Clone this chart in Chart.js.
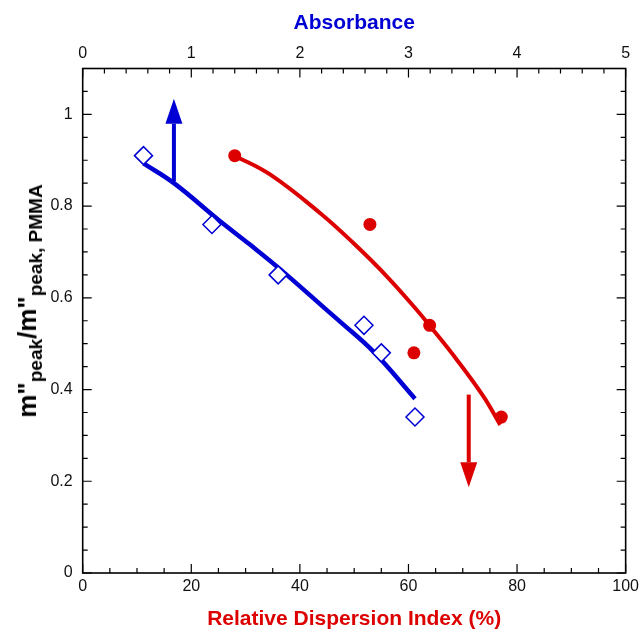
<!DOCTYPE html>
<html>
<head>
<meta charset="utf-8">
<script src="https://cdn.jsdelivr.net/npm/chart.js@4.4.1/dist/chart.umd.min.js"></script>
<style>
  html, body { margin: 0; padding: 0; background: #fff; }
  #wrap { position: relative; width: 643px; height: 630px; }
  #ylab {
    position: absolute; left: 27px; top: 301px;
    transform: translate(-50%, -50%) rotate(-90deg);
    font: bold 26px 'Liberation Sans', Arial, sans-serif;
    white-space: nowrap; line-height: 1; color: #000;
  }
  #ylab sub { font-size: 19px; vertical-align: -6px; line-height: 0; }
</style>
</head>
<body>
<div id="wrap">
  <canvas id="chart" width="643" height="630"></canvas>
  <div id="ylab">m"<sub>peak</sub>/m"<sub>peak, PMMA</sub></div>
</div>
<script>
// chart data

// blue: absorbance (top axis)
const absorbance = [0.56, 1.19, 1.80, 2.59, 2.75, 3.06];
const ratioAbs = [0.91, 0.76, 0.65, 0.54, 0.48, 0.34];
// blue fit curve
const absFitX = [0.56, 0.84, 1.26, 1.54, 1.82, 2.23, 2.37, 2.68, 3.06];
const absFitY = [0.893, 0.850, 0.768, 0.716, 0.662, 0.577, 0.548, 0.482, 0.380];

// red: relative dispersion index (bottom axis)
const dispersion = [28.0, 52.9, 61.0, 63.9, 77.1];
const ratioRdi = [0.91, 0.76, 0.48, 0.54, 0.34];
// red fit curve
const rdiFitX = [28.0, 34.5, 43.7, 49.8, 56.0, 61.5, 64.0, 68.9, 73.8, 76.9];
const rdiFitY = [0.910, 0.869, 0.785, 0.720, 0.647, 0.574, 0.538, 0.465, 0.385, 0.323];

// arrows: [x, from y, to y]
const absArrow = [0.84, 0.854, 1.034];
const rdiArrow = [71.1, 0.389, 0.187];

const BLUE = '#0000d4';
const RED = '#dc0000';
const FONT = "'Liberation Sans', Arial, sans-serif";

const toPoints = (xs, ys) => xs.map((x, i) => ({ x: x, y: ys[i] }));

// 枠と内向きの目盛り
const frameTicks = {
  id: 'frameTicks',
  afterDatasetsDraw(chart) {
    const { ctx, chartArea: a, scales } = chart;
    ctx.save();
    ctx.strokeStyle = '#000';
    ctx.lineWidth = 1.2;
    ctx.beginPath();
    const marks = (scale, minor, major, draw) => {
      for (let i = 0; ; i++) {
        const v = scale.min + i * minor;
        if (v > scale.max + 1e-9) break;
        const isMajor = Math.abs(v / major - Math.round(v / major)) < 1e-6;
        draw(scale.getPixelForValue(v), isMajor ? 9 : 5);
      }
    };
    marks(scales.x, 5, 20, (p, len) => { ctx.moveTo(p, a.bottom); ctx.lineTo(p, a.bottom - len); });
    marks(scales.x2, 0.2, 1, (p, len) => { ctx.moveTo(p, a.top); ctx.lineTo(p, a.top + len); });
    marks(scales.y, 0.05, 0.2, (p, len) => { ctx.moveTo(a.left, p); ctx.lineTo(a.left + len, p); });
    marks(scales.y2, 0.05, 0.2, (p, len) => { ctx.moveTo(a.right, p); ctx.lineTo(a.right - len, p); });
    ctx.stroke();
    ctx.lineWidth = 1.6;
    ctx.strokeRect(a.left, a.top, a.right - a.left, a.bottom - a.top);
    ctx.restore();
  }
};

// 矢印
const arrows = {
  id: 'arrows',
  afterDatasetsDraw(chart) {
    const { ctx, scales } = chart;
    const draw = (xs, arrow, color) => {
      const px = xs.getPixelForValue(arrow[0]);
      const p0 = scales.y.getPixelForValue(arrow[1]);
      const p1 = scales.y.getPixelForValue(arrow[2]);
      const dir = Math.sign(p1 - p0);
      const head = 25, half = 8.5;
      ctx.save();
      ctx.strokeStyle = color;
      ctx.fillStyle = color;
      ctx.lineWidth = 4;
      ctx.beginPath();
      ctx.moveTo(px, p0);
      ctx.lineTo(px, p1 - dir * head);
      ctx.stroke();
      ctx.beginPath();
      ctx.moveTo(px, p1);
      ctx.lineTo(px - half, p1 - dir * head);
      ctx.lineTo(px + half, p1 - dir * head);
      ctx.closePath();
      ctx.fill();
      ctx.restore();
    };
    draw(scales.x2, absArrow, BLUE);
    draw(scales.x, rdiArrow, RED);
  }
};

const tickFont = { family: FONT, size: 16 };
const titleFont = { family: FONT, size: 21, weight: 'bold', lineHeight: 1 };

new Chart(document.getElementById('chart'), {
  type: 'line',
  data: {
    datasets: [
      {
        data: toPoints(absorbance, ratioAbs), xAxisID: 'x2', yAxisID: 'y',
        showLine: false, pointStyle: 'rectRot', pointRadius: 9,
        borderColor: BLUE, backgroundColor: '#fff', borderWidth: 1.5
      },
      {
        data: toPoints(dispersion, ratioRdi), xAxisID: 'x', yAxisID: 'y',
        showLine: false, pointStyle: 'circle', pointRadius: 6.5,
        borderColor: RED, backgroundColor: RED, borderWidth: 0
      },
      {
        data: toPoints(absFitX, absFitY), xAxisID: 'x2', yAxisID: 'y',
        borderColor: BLUE, borderWidth: 4.5, pointRadius: 0,
        tension: 0.4, fill: false
      },
      {
        data: toPoints(rdiFitX, rdiFitY), xAxisID: 'x', yAxisID: 'y',
        borderColor: RED, borderWidth: 4, pointRadius: 0,
        tension: 0.4, fill: false
      }
    ]
  },
  options: {
    responsive: false,
    animation: false,
    layout: { padding: 0 },
    plugins: { legend: { display: false }, tooltip: { enabled: false } },
    scales: {
      x: {
        type: 'linear', position: 'bottom', min: 0, max: 100,
        ticks: { stepSize: 20, padding: 4, color: '#111', font: tickFont, maxRotation: 0, includeBounds: false },
        grid: { display: false, drawTicks: false },
        border: { display: false },
        title: { display: true, text: 'Relative Dispersion Index (%)', color: RED, font: titleFont, padding: 0 },
        afterFit: s => { s.height = 57; }
      },
      x2: {
        type: 'linear', position: 'top', min: 0, max: 5,
        ticks: { stepSize: 1, padding: 5, color: '#111', font: tickFont, maxRotation: 0, includeBounds: false },
        grid: { display: false, drawTicks: false },
        border: { display: false },
        title: { display: true, text: 'Absorbance', color: BLUE, font: titleFont, padding: { top: 13, bottom: 0 } },
        afterFit: s => { s.height = 68.5; }
      },
      y: {
        type: 'linear', position: 'left', min: 0, max: 1.1,
        ticks: {
          stepSize: 0.2, padding: 10, color: '#111', font: tickFont, includeBounds: false,
          callback: v => String(+v.toFixed(2))
        },
        grid: { display: false, drawTicks: false },
        border: { display: false },
        afterFit: s => { s.width = 82.7; }
      },
      y2: {
        type: 'linear', position: 'right', min: 0, max: 1.1,
        ticks: { display: false, stepSize: 0.2 },
        grid: { display: false, drawTicks: false },
        border: { display: false },
        afterFit: s => { s.width = 17.3; }
      }
    }
  },
  plugins: [frameTicks, arrows]
});
</script>
</body>
</html>
